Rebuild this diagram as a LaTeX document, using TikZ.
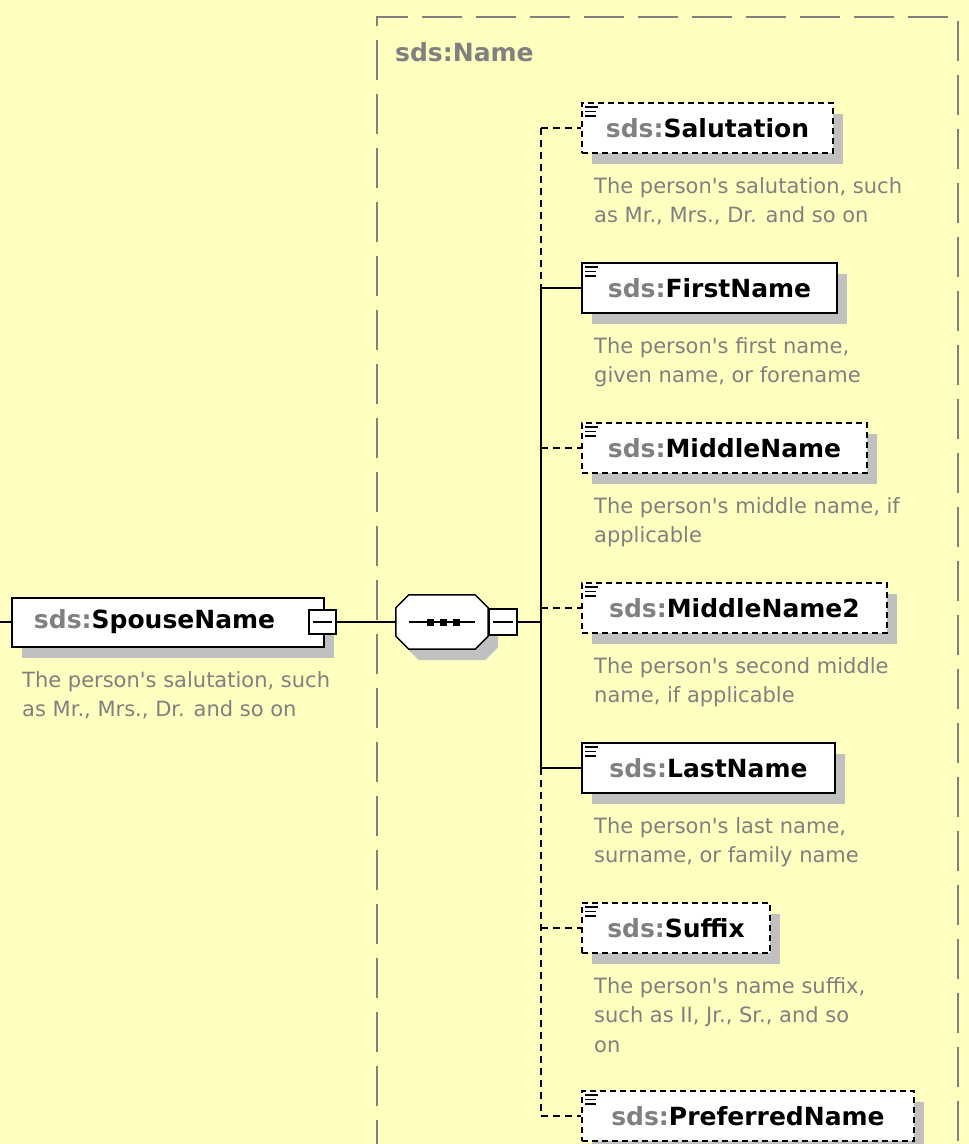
\documentclass[tikz,border=0pt]{standalone}
\usepackage{fontspec}
\setmainfont[Ligatures=TeXOff]{DejaVu Sans}
\usetikzlibrary{shadows}
\definecolor{bg}{RGB}{255,255,192}
\definecolor{tgray}{RGB}{128,128,128}
\definecolor{shgray}{RGB}{192,192,192}
\begin{document}
\begin{tikzpicture}[x=1pt,y=-1pt,
  shadowed/.style={drop shadow={shadow xshift=10pt, shadow yshift=-11pt, fill=shgray, opacity=1}},
  elem/.style={draw=black, line width=2pt, fill=white, minimum height=50pt, inner xsep=0pt,
    font=\fontsize{25}{28}\selectfont\bfseries, shadowed},
  req/.style={elem},
  opt/.style={elem, dash pattern=on 6pt off 4pt},
  desc/.style={anchor=north west, inner sep=0pt, align=left, text=tgray,
    font=\fontsize{21}{29.5}\selectfont},
  conn/.style={line width=1.5pt},
  optconn/.style={conn, dash pattern=on 7pt off 5pt},
  minusbox/.style={draw=black, fill=white, line width=1.5pt, inner sep=0pt, anchor=west},
  icon/.style={line width=1.4pt}]
\useasboundingbox (0,0) rectangle (969,1144);
\fill[bg] (0,0) rectangle (969,1144);

% group rectangle
\draw[tgray, line width=2pt, dash pattern=on 40pt off 14pt] (377,1160) -- (377,17) -- (958,17) -- (958,1160);
\node[anchor=west, inner sep=0pt, text=tgray, font=\fontsize{25}{28}\selectfont\bfseries] (gname) at (395,52) {sds:Name};

% spouse element
\coordinate (in) at (0,622);
\node[elem, anchor=west, text width=268pt, inner xsep=22pt, align=left, minimum height=49pt] (spouse) at (11,622) {\textcolor{tgray}{sds:}SpouseName};
\node[minusbox, minimum width=27pt, minimum height=24pt] (spm) at (308,622) {};
\draw[conn] ([xshift=5pt]spm.west) -- ([xshift=-5pt]spm.east);
\node[desc] (spousedesc) at (22,671) {The person's salutation, such\\as Mr., Mrs., Dr. and so on};
\draw[conn] (in) -- (spouse.west);

% sequence compositor
\node[minimum width=92pt, minimum height=54pt, inner sep=0pt] (seq) at (442,622) {};
\fill[shgray, transform canvas={xshift=10pt, yshift=-11pt}]
  ([xshift=13pt]seq.north west) -- ([xshift=-13pt]seq.north east) -- ([yshift=-13pt]seq.north east)
  -- ([yshift=13pt]seq.south east) -- ([xshift=-13pt]seq.south east) -- ([xshift=13pt]seq.south west)
  -- ([yshift=13pt]seq.south west) -- ([yshift=-13pt]seq.north west) -- cycle;
\draw[line width=1.5pt, fill=white]
  ([xshift=13pt]seq.north west) -- ([xshift=-13pt]seq.north east) -- ([yshift=-13pt]seq.north east)
  -- ([yshift=13pt]seq.south east) -- ([xshift=-13pt]seq.south east) -- ([xshift=13pt]seq.south west)
  -- ([yshift=13pt]seq.south west) -- ([yshift=-13pt]seq.north west) -- cycle;
\draw[conn] ([xshift=13pt]seq.west) -- ([xshift=-13pt]seq.east);
\foreach \dx in {-12,1,14}
  \fill ([xshift=\dx pt]seq.center) +(-3.5,-3.5) rectangle +(3.5,3.5);
\node[minusbox, minimum width=28pt, minimum height=26pt] (seqm) at (488,622) {};
\draw[conn] ([xshift=5pt]seqm.west) -- ([xshift=-5pt]seqm.east);
\draw[conn] (spm.east) -- (seq.west);

% children
\node[opt, anchor=west, minimum width=251pt] (sal) at (581,128) {\textcolor{tgray}{sds:}Salutation};
\node[req, anchor=west, minimum width=255pt] (first) at (581,288) {\textcolor{tgray}{sds:}FirstName};
\node[opt, anchor=west, minimum width=285pt] (mid) at (581,448) {\textcolor{tgray}{sds:}MiddleName};
\node[opt, anchor=west, minimum width=305pt] (midb) at (581,608) {\textcolor{tgray}{sds:}MiddleName2};
\node[req, anchor=west, minimum width=253pt] (last) at (581,768) {\textcolor{tgray}{sds:}LastName};
\node[opt, anchor=west, minimum width=188pt] (suf) at (581,928) {\textcolor{tgray}{sds:}Suffix};
\node[opt, anchor=west, minimum width=332pt] (pref) at (581,1116) {\textcolor{tgray}{sds:}PreferredName};

\foreach \n in {sal,first,mid,midb,last,suf,pref}{
  \draw[icon] ([xshift=4pt,yshift=-5pt]\n.north west) -- ++(13,0);
  \draw[icon] ([xshift=4pt,yshift=-9.5pt]\n.north west) -- ++(11,0);
  \draw[icon] ([xshift=4pt,yshift=-14pt]\n.north west) -- ++(11,0);
}

\node[desc] (saldesc) at (594,177) {The person's salutation, such\\as Mr., Mrs., Dr. and so on};
\node[desc] (firstdesc) at (594,337) {The person's first name,\\given name, or forename};
\node[desc] (middesc) at (594,497) {The person's middle name, if\\applicable};
\node[desc] (midbdesc) at (594,657) {The person's second middle\\name, if applicable};
\node[desc] (lastdesc) at (594,817) {The person's last name,\\surname, or family name};
\node[desc] (sufdesc) at (594,977) {The person's name suffix,\\such as II, Jr., Sr., and so\\on};

% connectors
\coordinate (bus) at (541,622);
\coordinate (j1) at (541,128);
\coordinate (j2) at (541,288);
\coordinate (j3) at (541,448);
\coordinate (j4) at (541,608);
\coordinate (j5) at (541,768);
\coordinate (j6) at (541,928);
\coordinate (j7) at (541,1116);
\draw[conn] (seqm.east) -- (bus);
\draw[optconn] (j1) -- (j2);
\draw[conn] (j2) -- (j5);
\draw[optconn] (j5) -- (j7);
\draw[optconn] (j1) -- (sal.west);
\draw[conn] (j2) -- (first.west);
\draw[optconn] (j3) -- (mid.west);
\draw[optconn] (j4) -- (midb.west);
\draw[conn] (j5) -- (last.west);
\draw[optconn] (j6) -- (suf.west);
\draw[optconn] (j7) -- (pref.west);
\end{tikzpicture}
\end{document}
